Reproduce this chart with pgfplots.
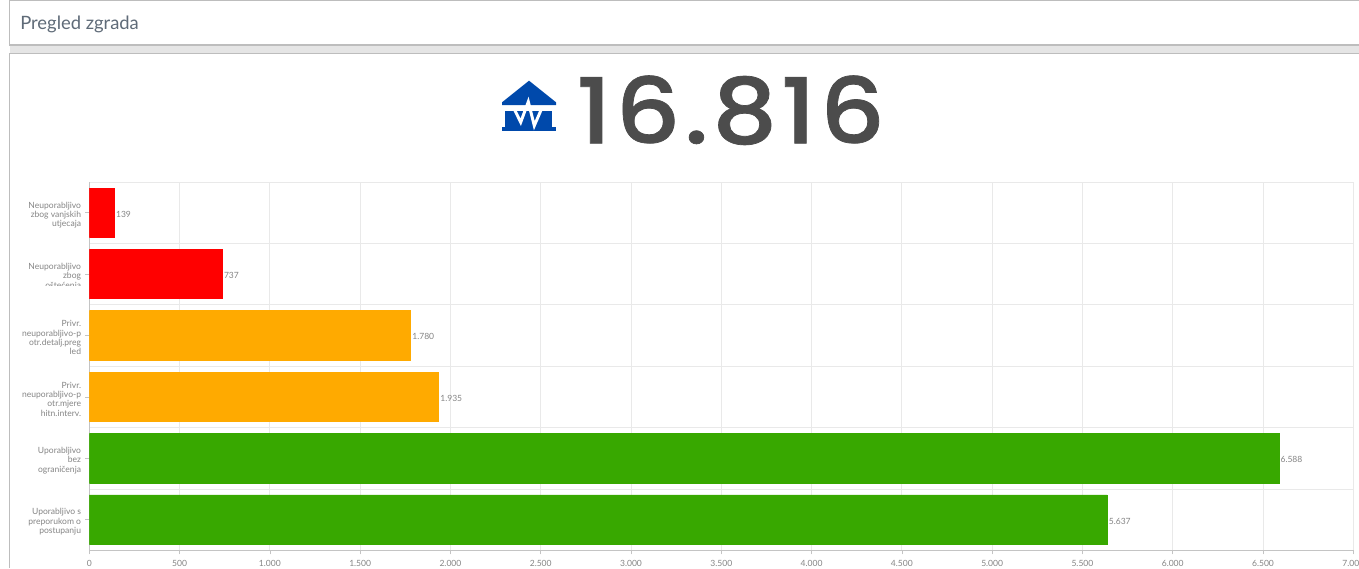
\documentclass[border=0pt]{standalone}
\usepackage{pgfplots}
\usepackage{fontspec}
\pgfplotsset{compat=1.18}
\setmainfont{Lato}
\newfontfamily\bigfont[FakeStretch=1.12,LetterSpace=4,FakeBold=0.8]{Poppins Medium}
\definecolor{lab}{HTML}{858585}
\definecolor{gridc}{HTML}{E9E9E9}
\definecolor{axc}{HTML}{C4C4C4}
\definecolor{panel}{HTML}{BDBDBD}
\definecolor{titlec}{HTML}{5F6B78}
\definecolor{iconc}{HTML}{0049AB}
\definecolor{barred}{RGB}{255,0,0}
\definecolor{barorange}{RGB}{255,170,0}
\definecolor{bargreen}{RGB}{56,168,0}
\pgfkeys{/pgf/number format/.cd,1000 sep={.},assume math mode=true}
\begin{document}
\begin{tikzpicture}[x=0.75pt,y=-0.75pt]
\useasboundingbox (0,0) rectangle (1359,568);
% panels
\fill[white] (0,0) rectangle (1359,568);
\fill[black!10] (9.5,45) rectangle (1359,53.5);
\draw[panel,line width=0.9pt] (1359,0.5) -- (9.5,0.5) -- (9.5,45) -- (1359,45);
\draw[panel,line width=0.9pt] (1359,53.5) -- (9.5,53.5) -- (9.5,568);
\node[anchor=base west,inner sep=0pt,text=titlec,font=\fontsize{13.8}{15}\selectfont] at (20,29) {Pregled zgrada};
% headline
\node[anchor=base west,inner sep=0pt,text=black!70,font=\bigfont\fontsize{68}{68}\selectfont] at (576,143.3) {16.816};
% icon
\fill[iconc] (529,80.7) -- (556,102.3) -- (556,105) -- (502,105) -- (502,102.3) -- cycle;
\fill[iconc] (505,111) rectangle (552.3,127.5);
\fill[iconc] (502,127.3) rectangle (556,130.7);
\draw[white,line width=2.2pt,line join=miter] (514,108.5) -- (520.7,122.3) -- (528.3,101.7) -- (534.3,125.7) -- (541.7,108.5);
\coordinate (A) at (89.3,550.3);
\begin{axis}[
  at={(A)},anchor=south west,
  scale only axis,
  width=948pt,height=276.2pt,
  xmin=0,xmax=7000,ymin=-0.5,ymax=5.5,
  y dir=reverse,
  axis lines*=left,
  axis line style={axc,-},
  xbar,
  bar shift=0pt,
  bar width=37pt,
  scaled x ticks=false,
  xtick={0,500,...,7000},
  ytick={0,1,2,3,4,5},
  minor ytick={-0.5,0.5,1.5,2.5,3.5,4.5,5.5},
  xmajorgrids,
  yminorgrids,
  major grid style={gridc,line width=0.6pt},
  minor grid style={gridc,line width=0.6pt},
  major tick length=3pt,
  minor tick length=0pt,
  tick align=outside,
  tick style={axc,line width=0.5pt},
  x tick label style={font=\fontsize{6.4}{7}\selectfont,text=lab,yshift=-1pt},
  yticklabels={{Neuporabljivo\\zbog vanjskih\\utjecaja},{Neuporabljivo\\zbog\\oštećenja},{Privr.\\neuporabljivo-p\\otr.detalj.preg\\led},{Privr.\\neuporabljivo-p\\otr.mjere\\hitn.interv.},{Uporabljivo\\bez\\ograničenja},{Uporabljivo s\\preporukom o\\postupanju}},
  y tick label style={align=right,inner sep=0pt,text=lab,font=\fontsize{6.4}{7}\selectfont,xshift=-3pt,yshift=-1.75pt},
  ytick pos=left,
  xtick pos=bottom,
  point meta=x,
  nodes near coords,
  every node near coord/.append style={font=\fontsize{6.4}{7}\selectfont,text=lab,anchor=west,inner sep=1pt,yshift=-1pt},
]
\addplot[draw=barred,line width=0.5pt,fill=barred] coordinates {(139,0) (737,1)};
\addplot[draw=barorange,line width=0.5pt,fill=barorange] coordinates {(1780,2) (1935,3)};
\addplot[draw=bargreen,line width=0.5pt,fill=bargreen] coordinates {(6588,4) (5637,5)};
\end{axis}
\fill[white] (25,286) rectangle (84,297);
\end{tikzpicture}
\end{document}
